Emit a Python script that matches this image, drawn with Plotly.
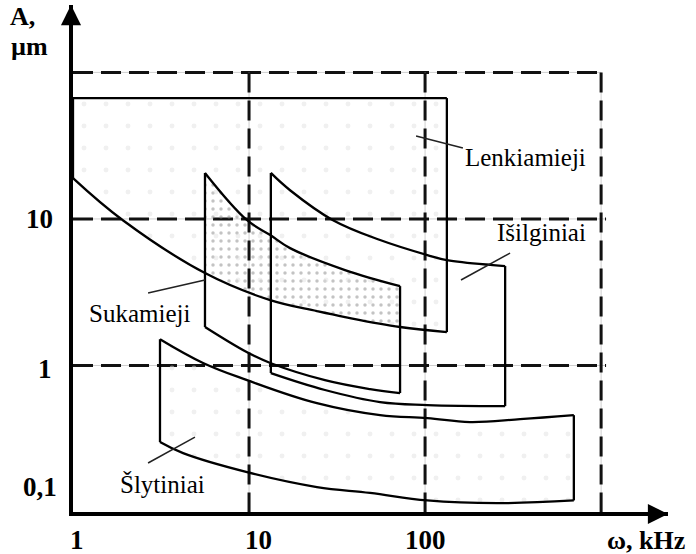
import math
import plotly.graph_objects as go

# ---------------- data ----------------
# Lenkiamieji (bending)
lenk_top_x = [1, 133]
lenk_top_y = [66.8, 66.8]
lenk_bot_x = [1, 1.92, 5.62, 13.2, 24.3, 35.1, 72.1, 133]
lenk_bot_y = [19.0, 9.8, 4.27, 2.79, 2.35, 2.14, 1.83, 1.69]

# Sukamieji (torsional)
suk_top_x = [5.62, 9.75, 13.2, 17.1, 35.1, 72.1]
suk_top_y = [20.6, 9.8, 7.76, 6.32, 4.48, 3.48]
suk_bot_x = [5.62, 9.75, 13.2, 27.0, 48.7, 72.1]
suk_bot_y = [1.83, 1.23, 1.04, 0.794, 0.69, 0.648]

# Išilginiai (longitudinal)
isil_top_x = [13.3, 17.1, 30.0, 55.5, 103, 133, 243, 285]
isil_top_y = [20.6, 15.7, 9.8, 7.18, 5.67, 5.24, 4.84, 4.77]
isil_bot_x = [13.3, 27.0, 55.5, 103, 285]
isil_bot_y = [0.887, 0.68, 0.562, 0.537, 0.528]

# Šlytiniai (shear)
slyt_top_x = [3.12, 5.48, 9.75, 24.3, 55.5, 103, 180, 347, 700]
slyt_top_y = [1.51, 1.04, 0.794, 0.553, 0.458, 0.437, 0.411, 0.43, 0.458]
slyt_bot_x = [3.12, 4.22, 9.75, 24.3, 48.7, 103, 257, 700]
slyt_bot_y = [0.300, 0.252, 0.187, 0.148, 0.135, 0.120, 0.115, 0.120]

# leader lines: [x0, x1], [y0, y1]
lead_lenk_x, lead_lenk_y = [88.9, 164], [36.8, 30.5]
lead_isil_x, lead_isil_y = [304, 160], [5.85, 3.83]
lead_suk_x, lead_suk_y = [2.67, 5.62], [3.12, 3.83]
lead_slyt_x, lead_slyt_y = [2.67, 4.93], [0.216, 0.324]

# reference grid (dashed)
grid_h_vals = [100, 10, 1]
grid_h_ends = [1000, 1067, 1067]
grid_v_vals = [10, 100, 1000]
grid_bottom, grid_top = 0.1, 100

x_ticks = [1, 10, 100]
x_tick_text = ["1", "10", "100"]
y_ticks = [10, 1, 0.1]
y_tick_text = ["10", "1", "0,1"]

region_names = ["Lenkiamieji", "Išilginiai", "Sukamieji", "Šlytiniai"]

# ---------------- figure ----------------
SERIF = "Liberation Serif, Times New Roman, serif"
fig = go.Figure()


def closed(tx, ty, bx, by):
    xs = list(tx) + list(bx)[::-1] + [tx[0]]
    ys = list(ty) + list(by)[::-1] + [ty[0]]
    return xs, ys


# grid: faint continuous line + dashes
for v, e in zip(grid_h_vals, grid_h_ends):
    fig.add_trace(go.Scatter(x=[1, e], y=[v, v], mode="lines",
                             line=dict(color="#cfcfcf", width=1), hoverinfo="skip"))
    fig.add_trace(go.Scatter(x=[1, e], y=[v, v], mode="lines",
                             line=dict(color="#111", width=3, dash="20px,8px"), hoverinfo="skip"))
for v in grid_v_vals:
    fig.add_trace(go.Scatter(x=[v, v], y=[grid_bottom, grid_top], mode="lines",
                             line=dict(color="#cfcfcf", width=1), hoverinfo="skip"))
    fig.add_trace(go.Scatter(x=[v, v], y=[grid_top, grid_bottom], mode="lines",
                             line=dict(color="#111", width=3, dash="20px,8px"), hoverinfo="skip"))

# dotted overlap (Sukamieji ∩ Lenkiamieji)
lo, hi = suk_top_x[0], suk_top_x[-1]
ov_bx = [x for x in lenk_bot_x if lo <= x <= hi]
ov_by = [y for x, y in zip(lenk_bot_x, lenk_bot_y) if lo <= x <= hi]
ox, oy = closed(suk_top_x, suk_top_y, ov_bx, ov_by)
fig.add_trace(go.Scatter(x=ox, y=oy, mode="lines", fill="toself",
                         line=dict(width=0, color="rgba(0,0,0,0)"),
                         fillcolor="rgba(0,0,0,0)",
                         fillpattern=dict(shape=".", fgcolor="#888", size=8, solidity=0.15),
                         hoverinfo="skip"))

# very faint speckle in Lenkiamieji and Šlytiniai
for tx, ty, bx, by in [(lenk_top_x, lenk_top_y, lenk_bot_x, lenk_bot_y),
                       (slyt_top_x, slyt_top_y, slyt_bot_x, slyt_bot_y)]:
    xs, ys = closed(tx, ty, bx, by)
    fig.add_trace(go.Scatter(x=xs, y=ys, mode="lines", fill="toself",
                             line=dict(width=0, color="rgba(0,0,0,0)"),
                             fillcolor="rgba(0,0,0,0)",
                             fillpattern=dict(shape=".", fgcolor="#e2e2e2", size=22, solidity=0.04),
                             hoverinfo="skip"))

# region outlines: smooth curves + straight vertical edges
LINE = dict(color="black", width=2.3)
for name, (tx, ty, bx, by) in zip(region_names, [
        (lenk_top_x, lenk_top_y, lenk_bot_x, lenk_bot_y),
        (isil_top_x, isil_top_y, isil_bot_x, isil_bot_y),
        (suk_top_x, suk_top_y, suk_bot_x, suk_bot_y),
        (slyt_top_x, slyt_top_y, slyt_bot_x, slyt_bot_y)]):
    for cx, cy in [(tx, ty), (bx, by)]:
        fig.add_trace(go.Scatter(x=cx, y=cy, mode="lines", name=name,
                                 line=dict(LINE, shape="spline", smoothing=1.1)))
    # left and right straight edges
    fig.add_trace(go.Scatter(x=[tx[0], bx[0], None, tx[-1], bx[-1]],
                             y=[ty[0], by[0], None, ty[-1], by[-1]],
                             mode="lines", name=name, line=LINE))

# leader lines
for lx, ly in [(lead_lenk_x, lead_lenk_y), (lead_isil_x, lead_isil_y),
               (lead_suk_x, lead_suk_y), (lead_slyt_x, lead_slyt_y)]:
    fig.add_trace(go.Scatter(x=lx, y=ly, mode="lines",
                             line=dict(color="#222", width=1.5), hoverinfo="skip"))

# ---------------- layout ----------------
W, H = 696, 554
ML, MR, MT, MB = 73, 28, 5, 42
PW, PH = W - ML - MR, H - MT - MB


def px(xpix):
    return (xpix - ML) / PW


def py(ypix):
    return (H - MB - ypix) / PH


ann = []
# region labels
label_pos = {"Lenkiamieji": (463, 157), "Išilginiai": (495, 233),
             "Sukamieji": (87, 313), "Šlytiniai": (118, 484)}
for name in region_names:
    lx, ly = label_pos[name]
    ann.append(dict(x=px(lx), y=py(ly), xref="paper", yref="paper", text=name,
                    showarrow=False, xanchor="left", yanchor="middle",
                    font=dict(family=SERIF, size=25, color="black")))

# tick labels
x_shift = {"1": 4, "10": 9, "100": 0}
for v, t in zip(x_ticks, x_tick_text):
    ann.append(dict(x=math.log10(v), y=0, xref="x", yref="paper", text=t,
                    showarrow=False, xanchor="center", yanchor="middle",
                    xshift=x_shift[t], yshift=-28,
                    font=dict(family=SERIF, size=27, color="black", weight="bold")))
y_lab = {"10": (39, 0), "1": (45, -4), "0,1": (40, 25)}
for v, t in zip(y_ticks, y_tick_text):
    cx, ys_ = y_lab[t]
    ann.append(dict(x=px(cx), y=math.log10(v), xref="paper", yref="y", text=t,
                    showarrow=False, xanchor="center", yanchor="middle", yshift=ys_,
                    font=dict(family=SERIF, size=27, color="black", weight="bold")))

# axis titles
ann.append(dict(x=px(23), y=py(16), xref="paper", yref="paper", text="A,",
                showarrow=False, xanchor="center", yanchor="middle",
                font=dict(family=SERIF, size=26, color="black", weight="bold")))
ann.append(dict(x=px(29), y=py(47), xref="paper", yref="paper", text="µm",
                showarrow=False, xanchor="center", yanchor="middle",
                font=dict(family=SERIF, size=26, color="black", weight="bold")))
ann.append(dict(x=px(646), y=py(540), xref="paper", yref="paper", text="ω, kHz",
                showarrow=False, xanchor="center", yanchor="middle",
                font=dict(family=SERIF, size=26, color="black", weight="bold")))

# arrow heads on axes
ann.append(dict(x=1, y=0, xref="paper", yref="paper", ax=-40, ay=0, text="",
                showarrow=True, arrowhead=2, arrowsize=1.15, arrowwidth=3.5,
                arrowcolor="black", yshift=-2))
ann.append(dict(x=0, y=1, xref="paper", yref="paper", ax=0, ay=40, text="",
                showarrow=True, arrowhead=2, arrowsize=1.15, arrowwidth=3.5,
                arrowcolor="black", xshift=-2))

fig.update_layout(
    width=W, height=H, margin=dict(l=ML, r=MR, t=MT, b=MB),
    paper_bgcolor="white", plot_bgcolor="white", showlegend=False,
    annotations=ann,
    xaxis=dict(type="log", range=[0, 3.38], showgrid=False, zeroline=False,
               showline=True, linecolor="black", linewidth=4,
               showticklabels=False, ticks=""),
    yaxis=dict(type="log", range=[-1.0, 2.46], showgrid=False, zeroline=False,
               showline=True, linecolor="black", linewidth=4,
               showticklabels=False, ticks=""),
)

fig.write_html("out.html")
